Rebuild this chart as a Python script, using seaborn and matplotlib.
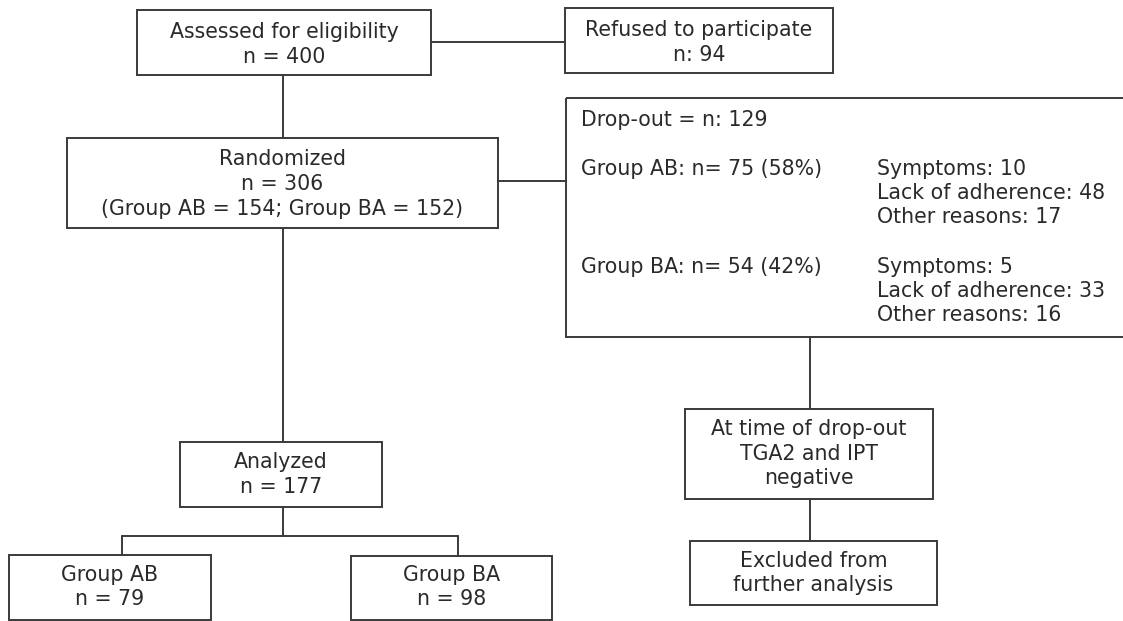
import matplotlib
matplotlib.use("Agg")
import matplotlib.pyplot as plt
from matplotlib.patches import Rectangle
import seaborn as sns

# ---------------- data ----------------
assessed_n = 400
refused_n = 94
randomized_n = 306
randomized_groups = ["Group AB", "Group BA"]
randomized_counts = [154, 152]
dropout_n = 129
dropout_counts = [75, 54]
dropout_pcts = [58, 42]
reason_labels = ["Symptoms", "Lack of adherence", "Other reasons"]
reasons_ab = [10, 48, 17]
reasons_ba = [5, 33, 16]
analyzed_n = 177
analyzed_counts = [79, 98]

# ---------------- style ----------------
sns.set_theme(style="white")
plt.rcParams["font.family"] = ["DejaVu Sans"]
INK = "#2a2a2a"
LINE = "#3a3a3a"
FS = 14.8
LW = 1.4

fig = plt.figure(figsize=(11.23, 6.21), dpi=100)
ax = fig.add_axes([0, 0, 1, 1])
ax.set_xlim(0, 1123)
ax.set_ylim(621, 0)
ax.axis("off")

# layout (pixel boxes: x0, y0, x1, y1)
B_ASSESS = (137, 10, 431, 75)
B_REFUSE = (565, 8, 833, 73)
B_RAND = (67, 138, 498, 228)
B_DROP = (566, 98, 1135, 337)
B_ANALYZ = (180, 442, 382, 507)
B_AB = (9, 555, 211, 620)
B_BA = (351, 556, 552, 620)
B_TGA = (685, 409, 933, 499)
B_EXCL = (690, 541, 937, 605)


def box(b):
    x0, y0, x1, y1 = b
    ax.add_patch(Rectangle((x0, y0), x1 - x0, y1 - y0, fill=False,
                           edgecolor=LINE, linewidth=LW))


def centered(b, lines, ys):
    cx = (b[0] + b[2]) / 2
    for t, y in zip(lines, ys):
        ax.text(cx, y, t, ha="center", va="center", fontsize=FS, color=INK)


def seg(xs, ys):
    sns.lineplot(x=xs, y=ys, ax=ax, color=LINE, linewidth=LW,
                 sort=False, estimator=None, legend=False)


for b in [B_ASSESS, B_REFUSE, B_RAND, B_DROP, B_ANALYZ, B_AB, B_BA, B_TGA, B_EXCL]:
    box(b)

centered(B_ASSESS, ["Assessed for eligibility", f"n = {assessed_n}"], [32, 57])
centered(B_REFUSE, ["Refused to participate", f"n: {refused_n}"], [30, 55])
centered(B_RAND, ["Randomized", f"n = {randomized_n}",
                  f"({randomized_groups[0]} = {randomized_counts[0]}; "
                  f"{randomized_groups[1]} = {randomized_counts[1]})"],
         [159, 184, 209])
centered(B_ANALYZ, ["Analyzed", f"n = {analyzed_n}"], [462, 487])
centered(B_AB, [randomized_groups[0], f"n = {analyzed_counts[0]}"], [575, 599])
centered(B_BA, [randomized_groups[1], f"n = {analyzed_counts[1]}"], [575, 599])
centered(B_TGA, ["At time of drop-out", "TGA2 and IPT", "negative"], [429, 454, 478])
centered(B_EXCL, ["Excluded from", "further analysis"], [561, 585])

# drop-out box contents
ax.text(581, 120, f"Drop-out = n: {dropout_n}", ha="left", va="center",
        fontsize=FS, color=INK)
group_y = [169, 267]
for g, (grp, cnt, pct, reasons) in enumerate(zip(randomized_groups, dropout_counts,
                                                 dropout_pcts, [reasons_ab, reasons_ba])):
    y0 = group_y[g]
    ax.text(581, y0, f"{grp}: n= {cnt} ({pct}%)", ha="left", va="center",
            fontsize=FS, color=INK)
    for i, (lab, v) in enumerate(zip(reason_labels, reasons)):
        ax.text(877, y0 + 24 * i, f"{lab}: {v}", ha="left", va="center",
                fontsize=FS, color=INK)

# connectors
seg([431, 565], [42, 42])
seg([283, 283], [75, 138])
seg([498, 566], [181, 181])
seg([283, 283], [228, 442])
seg([810, 810], [337, 409])
seg([810, 810], [499, 541])
seg([283, 283], [507, 536])
seg([122, 458], [536, 536])
seg([122, 122], [536, 555])
seg([458, 458], [536, 556])

ax.set_xlim(0, 1123)
ax.set_ylim(621, 0)
ax.axis("off")

fig.savefig("out.png", dpi=100, facecolor="white")
